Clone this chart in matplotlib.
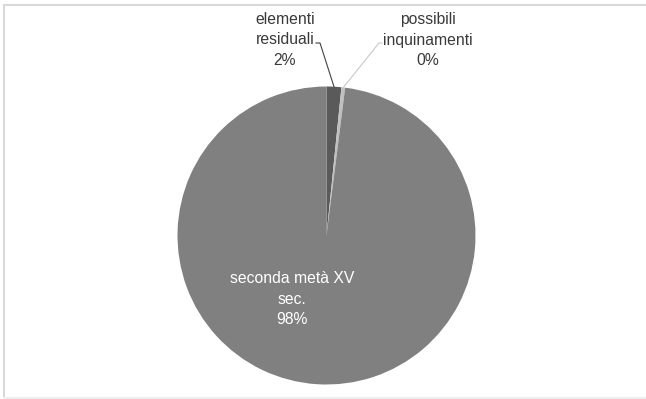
import numpy as np
import matplotlib
matplotlib.use("Agg")
from matplotlib import pyplot as plt
from matplotlib.lines import Line2D

labels = ["elementi\nresiduali", "possibili\ninquinamenti", "seconda metà XV\nsec."]
values = [1.6, 0.4, 98.0]
colors = ["#5a5a5a", "#c0c0c0", "#808080"]

plt.rcParams['font.family'] = ['Liberation Sans', 'DejaVu Sans']

W, H = 646, 399
fig = plt.figure(figsize=(W / 100, H / 100), dpi=100)

# light frame round the chart area (right side falls outside the image)
frame = [([4, 4], [5, 399], "#d9d9d9"),
         ([4, 646], [5, 5], "#d9d9d9"),
         ([4, 646], [398, 398], "#efefef")]
for xs, ys, c in frame:
    fig.add_artist(Line2D([x / W for x in xs], [1 - y / H for y in ys],
                          transform=fig.transFigure, color=c, linewidth=1.5))

cx, cy, r = 326.5, 235.5, 149.0
ax = fig.add_axes([(cx - r) / W, (H - cy - r) / H, 2 * r / W, 2 * r / H])
wedges, _ = ax.pie(values, colors=colors, startangle=90, counterclock=False,
                   radius=1.0, wedgeprops=dict(linewidth=0))
ax.set_xlim(-1, 1)
ax.set_ylim(-1, 1)
ax.set_aspect("equal")
ax.axis("off")

total = sum(values)
pct = [f"{v / total * 100:.0f}%" for v in values]

def px(x, y):
    # pixel position -> axes data units
    return (x - cx) / r, (cy - y) / r

# outside labels with leader lines for the two small slices
txt_pos = [px(285, 40), px(428, 40)]
line_start = [[px(316, 43), px(320, 43)], [px(382, 43), px(379, 43)]]
line_col = ["#404040", "#c8c8c8"]
for i in range(2):
    w = wedges[i]
    ang = np.deg2rad((w.theta1 + w.theta2) / 2)
    tip = (np.cos(ang), np.sin(ang))
    ax.text(txt_pos[i][0], txt_pos[i][1], labels[i] + "\n" + pct[i], ha="center", va="center",
            fontsize=11.3, color="#3a3a3a", linespacing=1.45, clip_on=False)
    p0, p1 = line_start[i]
    ax.plot([p0[0], p1[0], tip[0]], [p0[1], p1[1], tip[1]], color=line_col[i],
            linewidth=0.8, clip_on=False)

# label inside the big slice
lx, ly = px(292, 299)
ax.text(lx, ly, labels[2] + "\n" + pct[2], ha="center", va="center",
        fontsize=11.3, color="white", linespacing=1.45)

fig.savefig("out.png", dpi=100)
plt.close()
